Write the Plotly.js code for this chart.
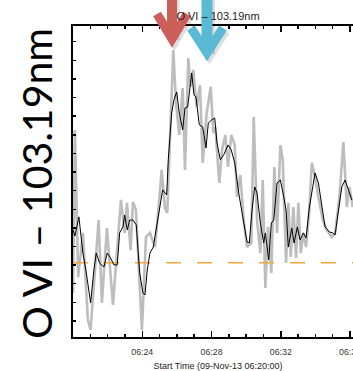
<!DOCTYPE html>
<html>
<head>
<meta charset="utf-8">
<script src="https://cdn.plot.ly/plotly-3.0.1.min.js"></script>
<style>
html,body{margin:0;padding:0;overflow:hidden;background:#fff;}
#chart{width:363px;height:371px;}
</style>
</head>
<body>
<div id="chart"></div>
<script>
// ---- data (seconds after 06:20:00, intensity in arbitrary units) ----
const startTime = Date.UTC(2013, 10, 9, 6, 20, 0);
const grayT = [0,6.6,18,34.3,51.7,61,88.8,100.2,117.6,138.4,166.1,179,186.9,199.8,207.7,218.1,238.9,252.8,266.7,284.1,298.9,307.3,318.7,326.7,338.5,347.5,356.9,368.3,380.1,388.1,399.5,407.8,416.9,428.6,440.1,449.5,463.3,477.2,486.2,493.1,507,516.4,527.8,537.2,548.6,560.4,568.4,579.9,591.6,603.1,618,626.3,637.8,649.2,657.5,666.6,675.9,687.4,697.8,707.1,718.6,726.9,738.4,746.3,754.6,763.7,773,781,789.3,798.3,807.7,819.1,827.5,838.9,850.4,865.6,879.5,896.8,908.3,923.2,937.1,948.9,957.9,969.7];
const grayV = [15.0,102.6,23.6,47.3,0.5,-4.8,54.2,9.7,49.9,8.6,65.0,47.3,63.4,38.1,63.9,59.6,-4.8,45.1,47.3,39.7,65.0,81.1,60.7,58.0,107.9,145.5,117.1,99.9,125.1,81.1,141.2,125.7,134.8,114.9,126.7,84.9,111.7,125.7,101.0,104.2,74.1,91.8,99.9,82.7,99.9,94.5,66.6,78.4,54.2,39.7,41.9,109.6,54.2,36.5,75.7,17.7,50.5,25.8,82.7,47.3,94.5,86.5,31.1,63.4,34.4,61.2,33.8,63.4,36.5,47.3,39.7,59.6,84.9,77.3,66.6,54.2,48.9,45.1,47.3,66.6,96.1,61.2,72.0,61.2];
const blackT = [0,6.6,20.5,34.3,44.7,61,72.5,80.5,92.2,107.2,118.6,130.4,141.8,153.3,161.6,173.1,179,188,196.3,207.7,219.2,231,242.4,249.4,257.3,266.7,278.1,289.9,301.4,310.7,324.6,330.2,341.9,349.9,359.3,368.3,380.1,388.1,397.4,405.4,411.3,419.3,426.2,437.7,449.5,460.9,468.9,480.7,491.1,499,510.5,522.3,537.2,548.6,560.4,574.3,591.6,603.1,611.1,620.4,629.8,637.8,649.2,661,666.6,678.3,687.4,695.7,707.1,718.6,730.4,738.4,746.3,758.1,766.1,777.5,786.9,798.3,807.7,819.1,830.9,838.9,850.4,862.1,873.6,888.5,900.3,908.3,919.7,931.5,943,954.4,966.2];
const blackV = [48.9,45.6,55.9,36.5,27.4,9.7,27.4,36.5,31.1,29.0,36.5,33.8,30.1,30.1,47.3,50.5,56.9,48.9,54.2,54.2,51.6,25.8,15.0,14.0,27.4,36.5,39.7,50.5,61.2,70.4,67.7,86.5,111.7,118.7,123.0,111.7,102.6,114.4,114.9,125.7,133.2,121.4,120.3,105.3,104.2,92.9,106.3,108.0,109.0,95.6,86.5,89.2,94.5,91.8,84.9,68.7,54.2,42.4,41.9,59.6,72.0,68.7,52.6,41.9,47.3,32.8,52.6,54.2,74.1,75.7,66.6,59.6,39.7,49.9,41.9,50.5,43.5,47.3,44.6,61.2,72.0,79.5,74.1,61.2,50.5,47.8,47.3,46.2,59.6,72.0,75.7,70.4,65.0];
const baseLevel = 31.3;
const rangeSec = [0, 1005];
const labelTickSec = [240, 480, 720, 960];
const titleText = 'O VI – 103.19nm';
const xTitleText = 'Start Time (09-Nov-13 06:20:00)';

const toMs = s => startTime + s * 1000;

// ---- layout geometry helpers (pixels -> paper) ----
const W = 363, H = 371, ML = 73, MT = 26, MB = 34;
const PW = W - ML, PH = H - MT - MB, PB = H - MB;
const px = x => (x - ML) / PW;
const py = y => (PB - y) / PH;
const pathPx = pts => pts.map((p, i) => (i ? 'L' : 'M') + px(p[0]).toFixed(5) + ',' + py(p[1]).toFixed(5)).join(' ');

function arrow(cx, tipY, half, depth, color, shaftW) {
  const shapes = [];
  const mk = (dx, dy, col) => {
    shapes.push({type:'path', xref:'paper', yref:'paper', path: pathPx([[cx+dx, -6+dy],[cx+dx, tipY-2+dy]]), line:{color:col, width:shaftW}});
    shapes.push({type:'path', xref:'paper', yref:'paper', path: pathPx([[cx-half+dx, tipY-depth+dy],[cx+dx, tipY+dy],[cx+half+dx, tipY-depth+dy]]), line:{color:col, width:9}});
  };
  mk(2.5, 3, 'rgba(0,0,0,0.13)');
  mk(0, 0, color);
  return shapes;
}

const traces = [
  {x: grayT.map(toMs), y: grayV, type:'scatter', mode:'lines', line:{color:'#bdbdbd', width:2.6}, hoverinfo:'skip'},
  {x: rangeSec.map(toMs), y: [baseLevel, baseLevel], type:'scatter', mode:'lines', line:{color:'#f2a93b', width:1.5, dash:'15px,16px'}, hoverinfo:'skip'},
  {x: blackT.map(toMs), y: blackV, type:'scatter', mode:'lines', line:{color:'#000000', width:1}, hoverinfo:'skip'}
];

const layout = {
  width: W, height: H,
  margin: {l: ML, r: 0, t: MT, b: MB, pad: 0},
  paper_bgcolor: '#ffffff', plot_bgcolor: '#ffffff',
  showlegend: false,
  font: {family: 'Liberation Sans, Arial, sans-serif', size: 9, color: '#333'},
  title: {text: titleText, font: {family: 'Liberation Sans, Arial, sans-serif', size: 11, color: '#222'},
          x: 0.5, xref: 'paper', xanchor: 'center', y: 1 - 16/H, yref: 'container', yanchor: 'middle'},
  xaxis: {
    type: 'date', range: rangeSec.map(toMs),
    tickmode: 'array', tickvals: labelTickSec.map(toMs), tickformat: '%H:%M',
    ticks: 'inside', ticklen: 6, tickwidth: 1.5, tickcolor: '#000',
    ticklabelstandoff: 5,
    minor: {tickmode: 'linear', dtick: 60000, tick0: toMs(0), ticks: 'inside', ticklen: 3, tickwidth: 1.5, tickcolor: '#000', showgrid: false},
    showline: true, linecolor: '#000', linewidth: 2, mirror: 'allticks',
    showgrid: false, zeroline: false,
    tickfont: {size: 8.8, color: '#333'},
    title: {text: xTitleText, font: {size: 9, color: '#222'}, standoff: 9},
    fixedrange: true
  },
  yaxis: {
    range: [-8.6, 158.4], tick0: 0, dtick: 10,
    ticks: 'inside', ticklen: 3, tickwidth: 1.5, tickcolor: '#000',
    showticklabels: false,
    showline: true, linecolor: '#000', linewidth: 2,
    showgrid: false, zeroline: false, fixedrange: true
  },
  shapes: [].concat(
    arrow(172, 39, 15, 25, '#cd5f5a', 10),
    arrow(207, 53, 16, 25, '#5ab9d4', 11)
  ),
  annotations: [
    {text: titleText, xref: 'paper', yref: 'paper', x: px(36), y: py(184), xanchor: 'center', yanchor: 'middle',
     textangle: -90, showarrow: false, font: {family: 'Lato, Open Sans, sans-serif', size: 41, color: '#000'}}
  ]
};

Plotly.newPlot('chart', traces, layout, {staticPlot: true, displayModeBar: false});
</script>
</body>
</html>
